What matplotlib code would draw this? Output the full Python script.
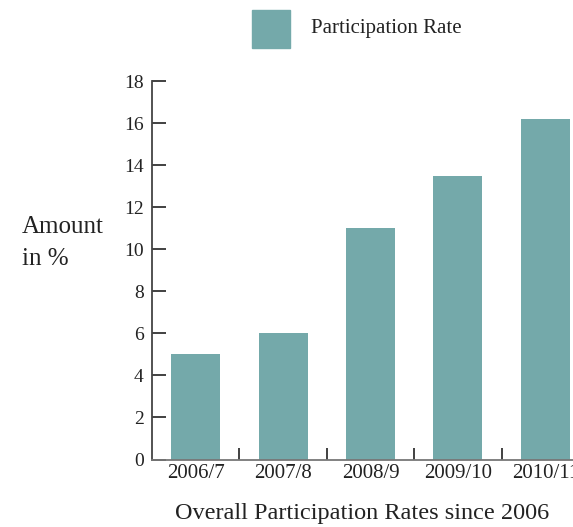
import matplotlib
matplotlib.use("Agg")
import matplotlib.pyplot as plt
from matplotlib.patches import Rectangle

categories = ["2006/7", "2007/8", "2008/9", "2009/10", "2010/11"]
participation = [5.0, 6.0, 11.0, 13.5, 16.2]
y_ticks = [0, 2, 4, 6, 8, 10, 12, 14, 16, 18]

BAR_COLOR = "#74a9aa"
TEXT_COLOR = "#222222"
plt.rcParams["font.family"] = ["Liberation Serif", "DejaVu Serif"]

W, H = 573, 527
fig = plt.figure(figsize=(W / 100, H / 100), dpi=100)
# axes runs past the right edge so the last bar is cut off
ax = fig.add_axes([152 / W, (H - 459.5) / H, 437 / W, 378.5 / H])

x = list(range(len(categories)))
ax.bar(x, participation, width=0.56, color=BAR_COLOR, zorder=2)

ax.set_xlim(-0.5, len(categories) - 0.5)
ax.set_ylim(0, 18)

for side in ("top", "right"):
    ax.spines[side].set_visible(False)
ax.spines["left"].set_color("#444444")
ax.spines["left"].set_linewidth(1.3)
ax.spines["bottom"].set_color("#777777")
ax.spines["bottom"].set_linewidth(1.3)

ax.set_yticks(y_ticks)
ax.set_yticklabels([str(v) for v in y_ticks])
ax.tick_params(axis="y", direction="in", length=10, width=1.3, color="#333333",
               labelsize=14, labelcolor=TEXT_COLOR, pad=6)

ax.set_xticks(x)
ax.set_xticklabels(categories)
ax.set_xticks([i + 0.5 for i in x[:-1]], minor=True)
ax.tick_params(axis="x", which="major", length=0, labelsize=15,
               labelcolor=TEXT_COLOR, pad=3)
ax.tick_params(axis="x", which="minor", direction="in", length=9, width=1.3,
               color="#333333")

fig.text(22 / W, 1 - 243 / H, "Amount\nin %", ha="left", va="center",
         fontsize=18, color=TEXT_COLOR, linespacing=1.55)
fig.text(362 / W, 1 - 514 / H, "Overall Participation Rates since 2006",
         ha="center", va="center", fontsize=17.5, color=TEXT_COLOR)

# legend swatch and label
fig.patches.append(Rectangle((252 / W, 1 - 48 / H), 38 / W, 38 / H,
                             transform=fig.transFigure, color=BAR_COLOR))
fig.text(311 / W, 1 - 28 / H, "Participation Rate", ha="left", va="center",
         fontsize=15, color=TEXT_COLOR)

fig.savefig("out.png", dpi=100)
